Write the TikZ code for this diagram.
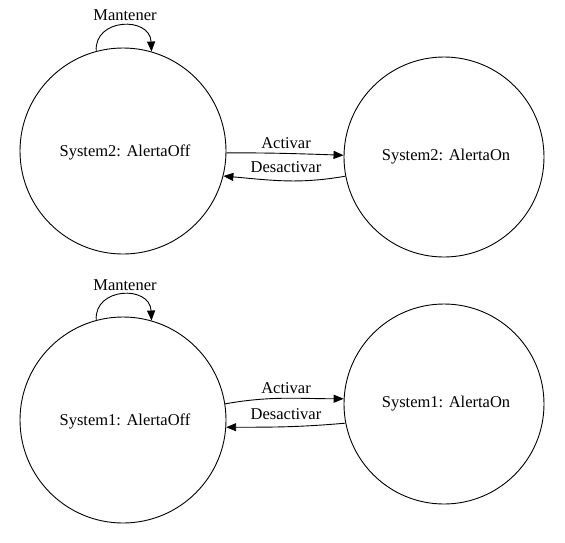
\documentclass[tikz,border=0pt]{standalone}
\usepackage{fontspec}
\setmainfont{Liberation Serif}
\usetikzlibrary{arrows.meta}
\begin{document}
\begin{tikzpicture}[x=1pt,y=-1pt,
  state/.style={draw,circle,inner sep=0pt,line width=0.9pt},
  lbl/.style={inner sep=0pt,font=\fontsize{16.5}{18}\selectfont},
  arr/.style={line width=0.9pt,-{Triangle[length=10pt,width=8pt]}},
  every node/.append style={font=\fontsize{16.5}{18}\selectfont}]
\useasboundingbox (0,0) rectangle (565,542);
% top system
\node[state,minimum size=206pt] (s2off) at (123,151) {};
\node[lbl] (t2off) at (125,152) {System2: AlertaOff};
\node[state,minimum size=200pt] (s2on) at (444,157) {};
\node[lbl] (t2on) at (446,157) {System2: AlertaOn};
\draw[arr] (s2off.105) .. controls (94,18) and (150,16) .. (s2off.74);
\node[lbl] (m2) at (125,15) {Mantener};
\draw[arr] (s2off.-1) to[out=0,in=178] (s2on.179);
\node[lbl] (a2) at (286,143) {Activar};
\draw[arr] (s2on.191) to[out=190,in=-5] (s2off.-14);
\node[lbl] (d2) at (286,167) {Desactivar};
% bottom system
\node[state,minimum size=206pt] (s1off) at (123,420) {};
\node[lbl] (t1off) at (125,421) {System1: AlertaOff};
\node[state,minimum size=200pt] (s1on) at (444,404) {};
\node[lbl] (t1on) at (446,404) {System1: AlertaOn};
\draw[arr] (s1off.105) .. controls (94,287) and (150,285) .. (s1off.74);
\node[lbl] (m1) at (125,285) {Mantener};
\draw[arr] (s1off.9) to[out=10,in=180] (s1on.177);
\node[lbl] (a1) at (286,388) {Activar};
\draw[arr] (s1on.191) to[out=185,in=0] (s1off.-4);
\node[lbl] (d1) at (286,414) {Desactivar};
\end{tikzpicture}
\end{document}
